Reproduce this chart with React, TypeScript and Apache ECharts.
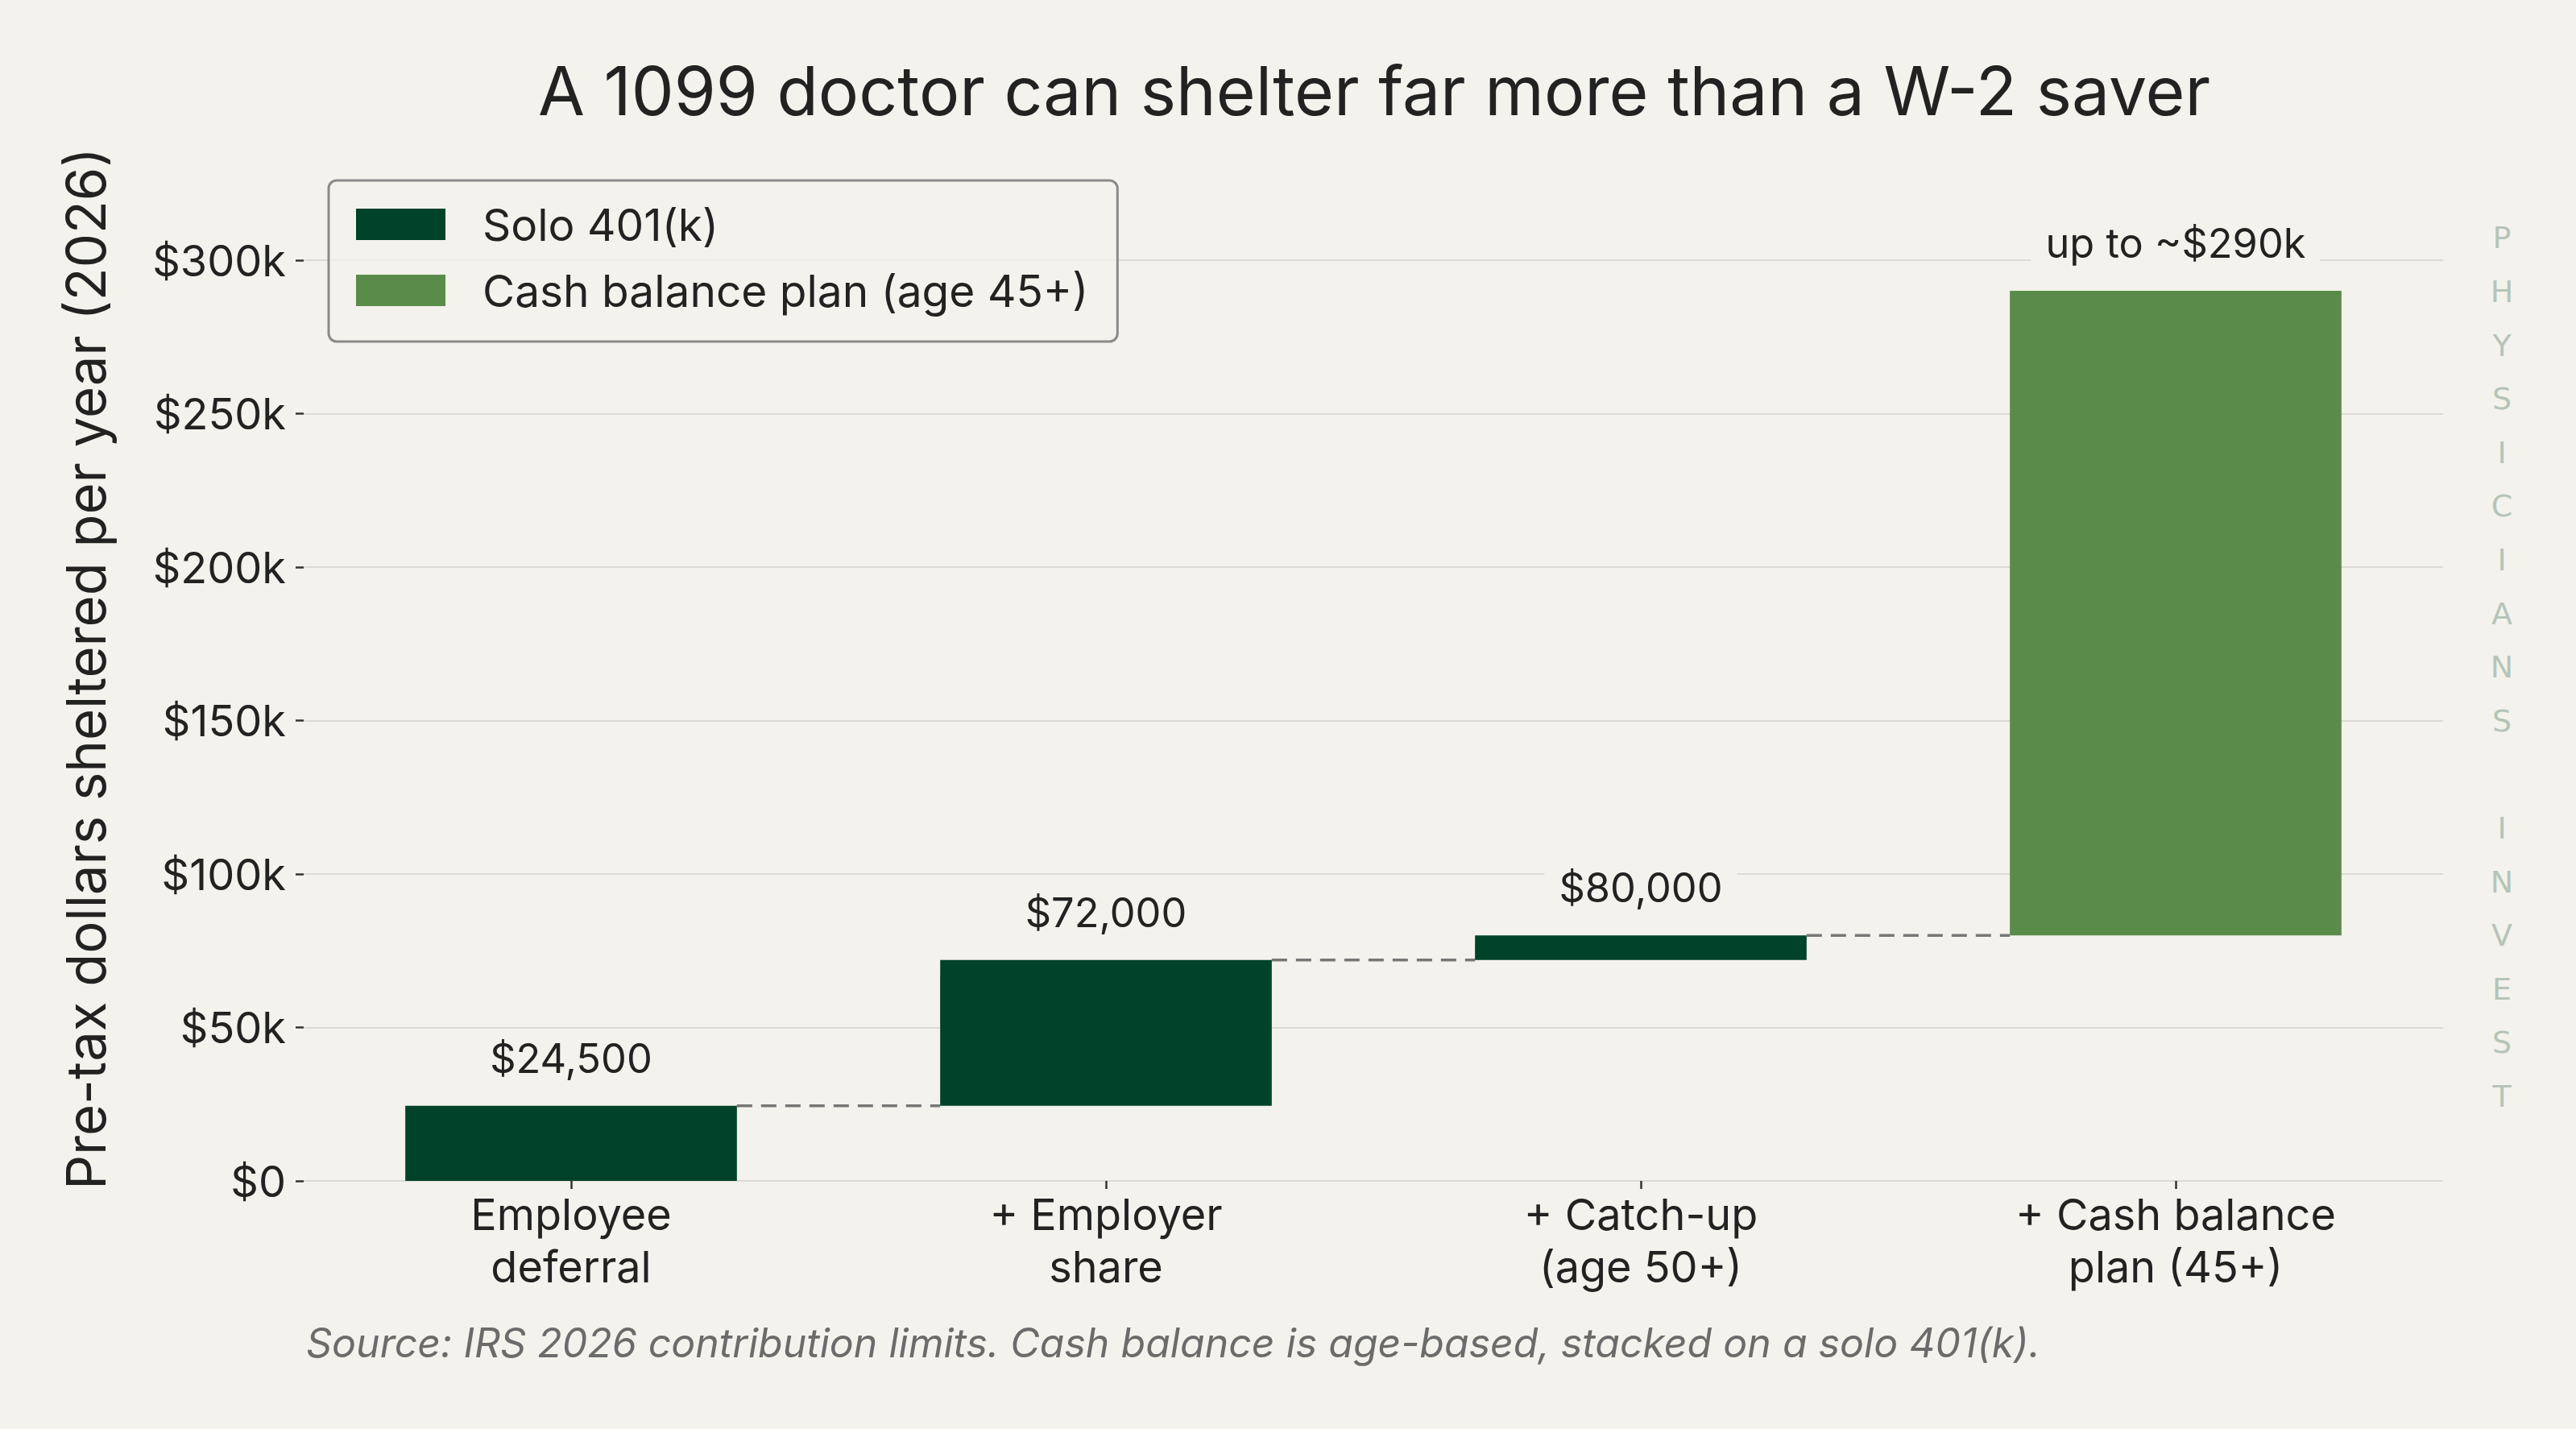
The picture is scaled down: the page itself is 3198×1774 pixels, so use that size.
import React, { useEffect, useRef } from 'react';
import * as echarts from 'echarts';

const categories = [
  'Employee\ndeferral',
  '+ Employer\nshare',
  '+ Catch-up\n(age 50+)',
  '+ Cash balance\nplan (45+)',
];
// invisible base of each waterfall step
const baseValues = [0, 24500, 72000, 80000];
const soloValues = [24500, 47500, 8000, null];
const cashValues = [null, null, null, 210000];
const runningTotals = [24500, 72000, 80000, 290000];
const totalLabels = ['$24,500', '$72,000', '$80,000', 'up to ~$290k'];
const yTicks = { min: 0, max: 300000, step: 50000 };

const BG = '#f4f2ed';
const DARK = '#01432a';
const LIGHT = '#5a8b4a';
const INK = '#222222';

const App: React.FC = () => {
  const chartRef = useRef<HTMLDivElement>(null);

  useEffect(() => {
    document.body.style.margin = '0';
    if (!chartRef.current) return;
    const chart = echarts.init(chartRef.current, undefined, { renderer: 'svg' });

    const labelStyle = {
      show: true,
      position: 'top',
      distance: 30,
      fontSize: 50.5,
      color: INK,
      backgroundColor: BG,
      padding: [4, 18],
      formatter: (p: any) => totalLabels[p.dataIndex],
    };

    const option = {
      animation: false,
      backgroundColor: BG,
      textStyle: { fontFamily: 'Inter' },
      title: {
        text: 'A 1099 doctor can shelter far more than a W-2 saver',
        left: 1701,
        textAlign: 'center',
        top: 65,
        textStyle: { fontSize: 84, fontWeight: 'normal', color: INK, fontFamily: 'Inter' },
      },
      legend: {
        data: ['Solo 401(k)', 'Cash balance plan (age 45+)'],
        orient: 'vertical',
        left: 408,
        top: 224,
        icon: 'rect',
        itemWidth: 111,
        itemHeight: 39,
        itemGap: 27,
        padding: [27, 36, 36, 34],
        borderColor: '#8a8a8a',
        borderWidth: 3,
        borderRadius: 10,
        backgroundColor: 'rgba(244,242,237,0.7)',
        textStyle: { fontSize: 55, color: INK, fontFamily: 'Inter', padding: [0, 0, 0, 41] },
      },
      grid: { left: 377, right: 165, top: 323, bottom: 308 },
      xAxis: {
        type: 'category',
        data: categories,
        axisLine: { show: false },
        axisTick: { show: true, alignWithLabel: true, length: 10, lineStyle: { color: '#333', width: 2.5 } },
        axisLabel: { fontSize: 54, lineHeight: 65, color: INK, margin: 9 },
      },
      yAxis: {
        type: 'value',
        min: yTicks.min,
        max: yTicks.max,
        interval: yTicks.step,
        axisLine: { show: false },
        axisTick: { show: true, length: 10, lineStyle: { color: '#333', width: 2.5 } },
        axisLabel: {
          fontSize: 54,
          color: INK,
          margin: 22,
          formatter: (v: number) => (v === 0 ? '$0' : '$' + v / 1000 + 'k'),
        },
        splitLine: { lineStyle: { color: '#dcdad4', width: 2 } },
      },
      series: [
        {
          name: 'base',
          type: 'bar',
          stack: 'w',
          barWidth: '62%',
          silent: true,
          itemStyle: { color: 'transparent' },
          data: baseValues,
        },
        {
          name: 'Solo 401(k)',
          type: 'bar',
          stack: 'w',
          itemStyle: { color: DARK },
          label: labelStyle,
          data: soloValues,
        },
        {
          name: 'Cash balance plan (age 45+)',
          type: 'bar',
          stack: 'w',
          itemStyle: { color: LIGHT },
          label: labelStyle,
          data: cashValues,
        },
        {
          name: 'connectors',
          type: 'custom',
          silent: true,
          encode: { x: 0, y: 1 },
          data: runningTotals.slice(0, 3).map((v, i) => [i, v]),
          renderItem: (params: any, api: any) => {
            const i = api.value(0);
            const v = api.value(1);
            const p0 = api.coord([i, v]);
            const p1 = api.coord([i + 1, v]);
            const half = api.size([1, 0])[0] * 0.31;
            return {
              type: 'line',
              shape: { x1: p0[0] + half, y1: p0[1], x2: p1[0] - half, y2: p1[1] },
              style: { stroke: '#777777', lineWidth: 3.5, lineDash: [19, 11] },
            };
          },
        },
      ],
      graphic: [
        {
          type: 'text',
          x: 106,
          y: 830,
          rotation: Math.PI / 2,
          style: {
            text: 'Pre-tax dollars sheltered per year (2026)',
            fontSize: 67,
            fontFamily: 'Inter',
            fill: INK,
            align: 'center',
            verticalAlign: 'middle',
          },
        },
        {
          type: 'text',
          x: 380,
          y: 1667,
          style: {
            text: 'Source: IRS 2026 contribution limits. Cash balance is age-based, stacked on a solo 401(k).',
            fontSize: 50,
            fontStyle: 'italic',
            fontFamily: 'Inter',
            fill: '#6b6b6b',
            align: 'left',
            verticalAlign: 'middle',
          },
        },
        {
          type: 'text',
          x: 3106,
          y: 262,
          style: {
            text: 'P\nH\nY\nS\nI\nC\nI\nA\nN\nS\n \nI\nN\nV\nE\nS\nT',
            fontSize: 38,
            lineHeight: 66.6,
            fontFamily: 'DejaVu Sans',
            fill: '#b5c5b7',
            align: 'center',
            verticalAlign: 'top',
          },
        },
      ],
    };

    chart.setOption(option);
    return () => {
      chart.dispose();
    };
  }, []);

  return <div ref={chartRef} style={{ width: '3198px', height: '1774px' }} />;
};

export default App;
